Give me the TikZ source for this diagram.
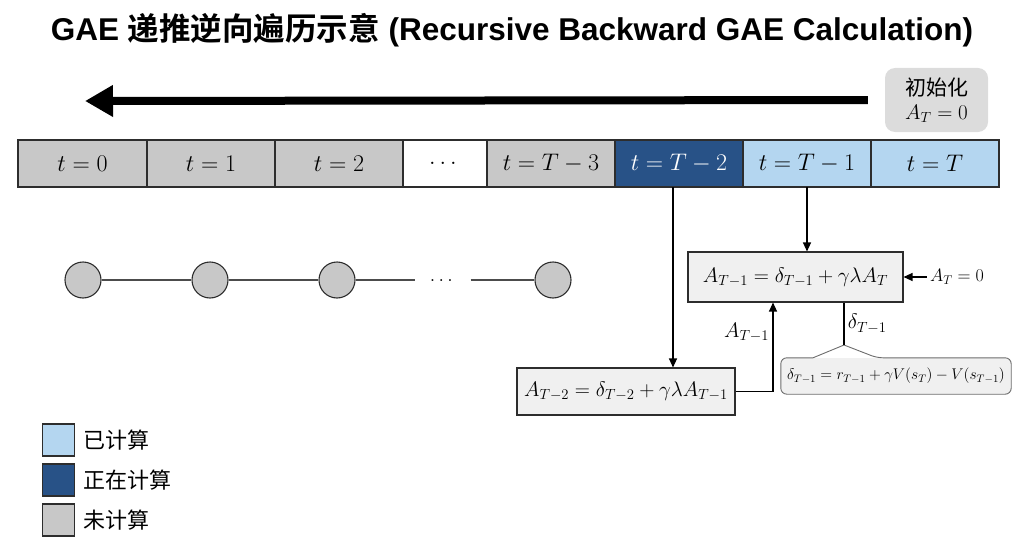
\RequirePackage{fix-cm}
\documentclass[tikz,border=0pt]{standalone}
\usepackage{amsmath, amssymb}
\usepackage{fontspec}
\setsansfont{Liberation Sans}
\newfontfamily\cjk{Noto Sans CJK SC}[BoldFont={Noto Sans CJK SC Bold}]
\usepackage{xcolor}
\usepackage{tikz}
\usetikzlibrary{shapes, arrows.meta, positioning}
\definecolor{donecolor}{RGB}{180, 214, 240}
\definecolor{nowcolor}{RGB}{40, 82, 135}
\definecolor{todocolor}{RGB}{200, 200, 200}
\definecolor{formulafill}{RGB}{240, 240, 240}
\definecolor{initfill}{RGB}{220, 220, 220}
\definecolor{linedark}{RGB}{45, 45, 45}

\begin{document}
\begin{tikzpicture}[x=1pt, y=-1pt, >={Triangle[length=9pt, width=8pt]},
    cell/.style={draw=linedark, line width=1.1pt, minimum width=128pt, minimum height=47pt,
        inner sep=0pt, outer sep=0pt, font=\fontsize{24}{28}\selectfont},
    donecell/.style={cell, fill=donecolor},
    nowcell/.style={cell, fill=nowcolor, text=white},
    todocell/.style={cell, fill=todocolor},
    formula/.style={draw=linedark, line width=1.1pt, fill=formulafill, inner sep=2pt,
        font=\fontsize{21}{25}\selectfont},
    link/.style={line width=1.2pt, black},
    statenode/.style={circle, draw=linedark, fill=todocolor, line width=1.1pt,
        minimum size=36pt, inner sep=0pt},
    keybox/.style={draw=linedark, line width=1.1pt, minimum size=32pt, inner sep=0pt},
    keytext/.style={anchor=west, font=\cjk\fontsize{22}{26}\selectfont}]

    \useasboundingbox (0,0) rectangle (1024,559);

    % Title
    \node[font=\sffamily\bfseries\fontsize{31.5}{35}\selectfont] (title) at (512,30)
        {GAE {\cjk\bfseries 递推逆向遍历示意} (Recursive Backward GAE Calculation)};

    % Direction arrow and start value
    \node[fill=initfill, rounded corners=10pt, minimum width=103pt, minimum height=64pt,
        align=center, font=\fontsize{21}{24}\selectfont] (init) at (936.5,100)
        {{\cjk 初始化}\\$A_T=0$};
    \coordinate (arrowtip) at (85,101);
    \draw[line width=8pt, -{Triangle[length=28pt, width=30pt]}, shorten <=17pt]
        (init.west) -- (arrowtip);

    % Time steps
    \node[todocell, minimum width=129pt] (c0) at (82.5,163.5) {$t=0$};
    \node[todocell] (c1) at (211,163.5) {$t=1$};
    \node[todocell] (c2) at (339,163.5) {$t=2$};
    \node[cell, fill=white, minimum width=84pt] (c3) at (445,163.5) {$\dots$};
    \node[todocell] (c4) at (551,163.5) {$t=T-3$};
    \node[nowcell] (c5) at (679,163.5) {$t=T-2$};
    \node[donecell] (c6) at (807,163.5) {$t=T-1$};
    \node[donecell] (c7) at (935,163.5) {$t=T$};

    % State chain
    \node[statenode] (n0) at (83,280) {};
    \node[statenode] (n1) at (210,280) {};
    \node[statenode] (n2) at (337,280) {};
    \node[minimum width=55pt, font=\fontsize{20}{24}\selectfont] (ndots) at (443,280)
        {\raisebox{-3pt}{$\dots$}};
    \node[statenode] (n3) at (553,280) {};
    \draw[line width=1.1pt, linedark!85] (n0) -- (n1) -- (n2) -- (ndots) -- (n3);

    % Recursion
    \node[formula, minimum width=215pt, minimum height=50pt] (f1) at (795.5,277)
        {$A_{T-1}=\delta_{T-1}+\gamma\lambda A_T$};
    \node[formula, minimum width=218pt, minimum height=47pt] (f2) at (626,391.5)
        {$A_{T-2}=\delta_{T-2}+\gamma\lambda A_{T-1}$};
    \node[font=\fontsize{18}{22}\selectfont] (aT) at (957,277) {$A_T=0$};
    \coordinate (apex) at (844,345);
    \node[fill=formulafill, rounded corners=6pt, minimum width=230pt, minimum height=36pt,
        inner sep=1pt, font=\fontsize{15.5}{18}\selectfont] (delta) at (896,376)
        {$\delta_{T-1}=r_{T-1}+\gamma V(s_T)-V(s_{T-1})$};
    \draw[linedark!70, line width=0.9pt] ([xshift=-31pt]apex |- delta.north)
        [rounded corners=6pt] -- (delta.north west) -- (delta.south west)
        -- (delta.south east) -- (delta.north east) -- ([xshift=33pt]apex |- delta.north)
        [sharp corners] -- (apex) -- ([xshift=-31pt]apex |- delta.north);

    \draw[link, ->] (c6.south) -- (c6.south |- f1.north);
    \draw[link, ->] ([xshift=-6pt]c5.south) -- ([xshift=-6pt]c5.south |- f2.north);
    \draw[link, ->] (aT.west) -- (f1.east);
    \draw[link, ->] (f2.east) -| ([xshift=-22.5pt]f1.south)
        node[pos=0.83, left, font=\fontsize{21}{25}\selectfont] {$A_{T-1}$};
    \draw[link] ([xshift=48.5pt]f1.south) -- (apex)
        node[midway, right, font=\fontsize{21}{25}\selectfont] {$\delta_{T-1}$};

    % Legend
    \node[keybox, fill=donecolor] (k1) at (58.5,440) {};
    \node[keytext] (k1t) at (80,440) {已计算};
    \node[keybox, fill=nowcolor] (k2) at (58.5,480) {};
    \node[keytext] (k2t) at (80,480) {正在计算};
    \node[keybox, fill=todocolor] (k3) at (58.5,520) {};
    \node[keytext] (k3t) at (80,520) {未计算};

\end{tikzpicture}
\end{document}
